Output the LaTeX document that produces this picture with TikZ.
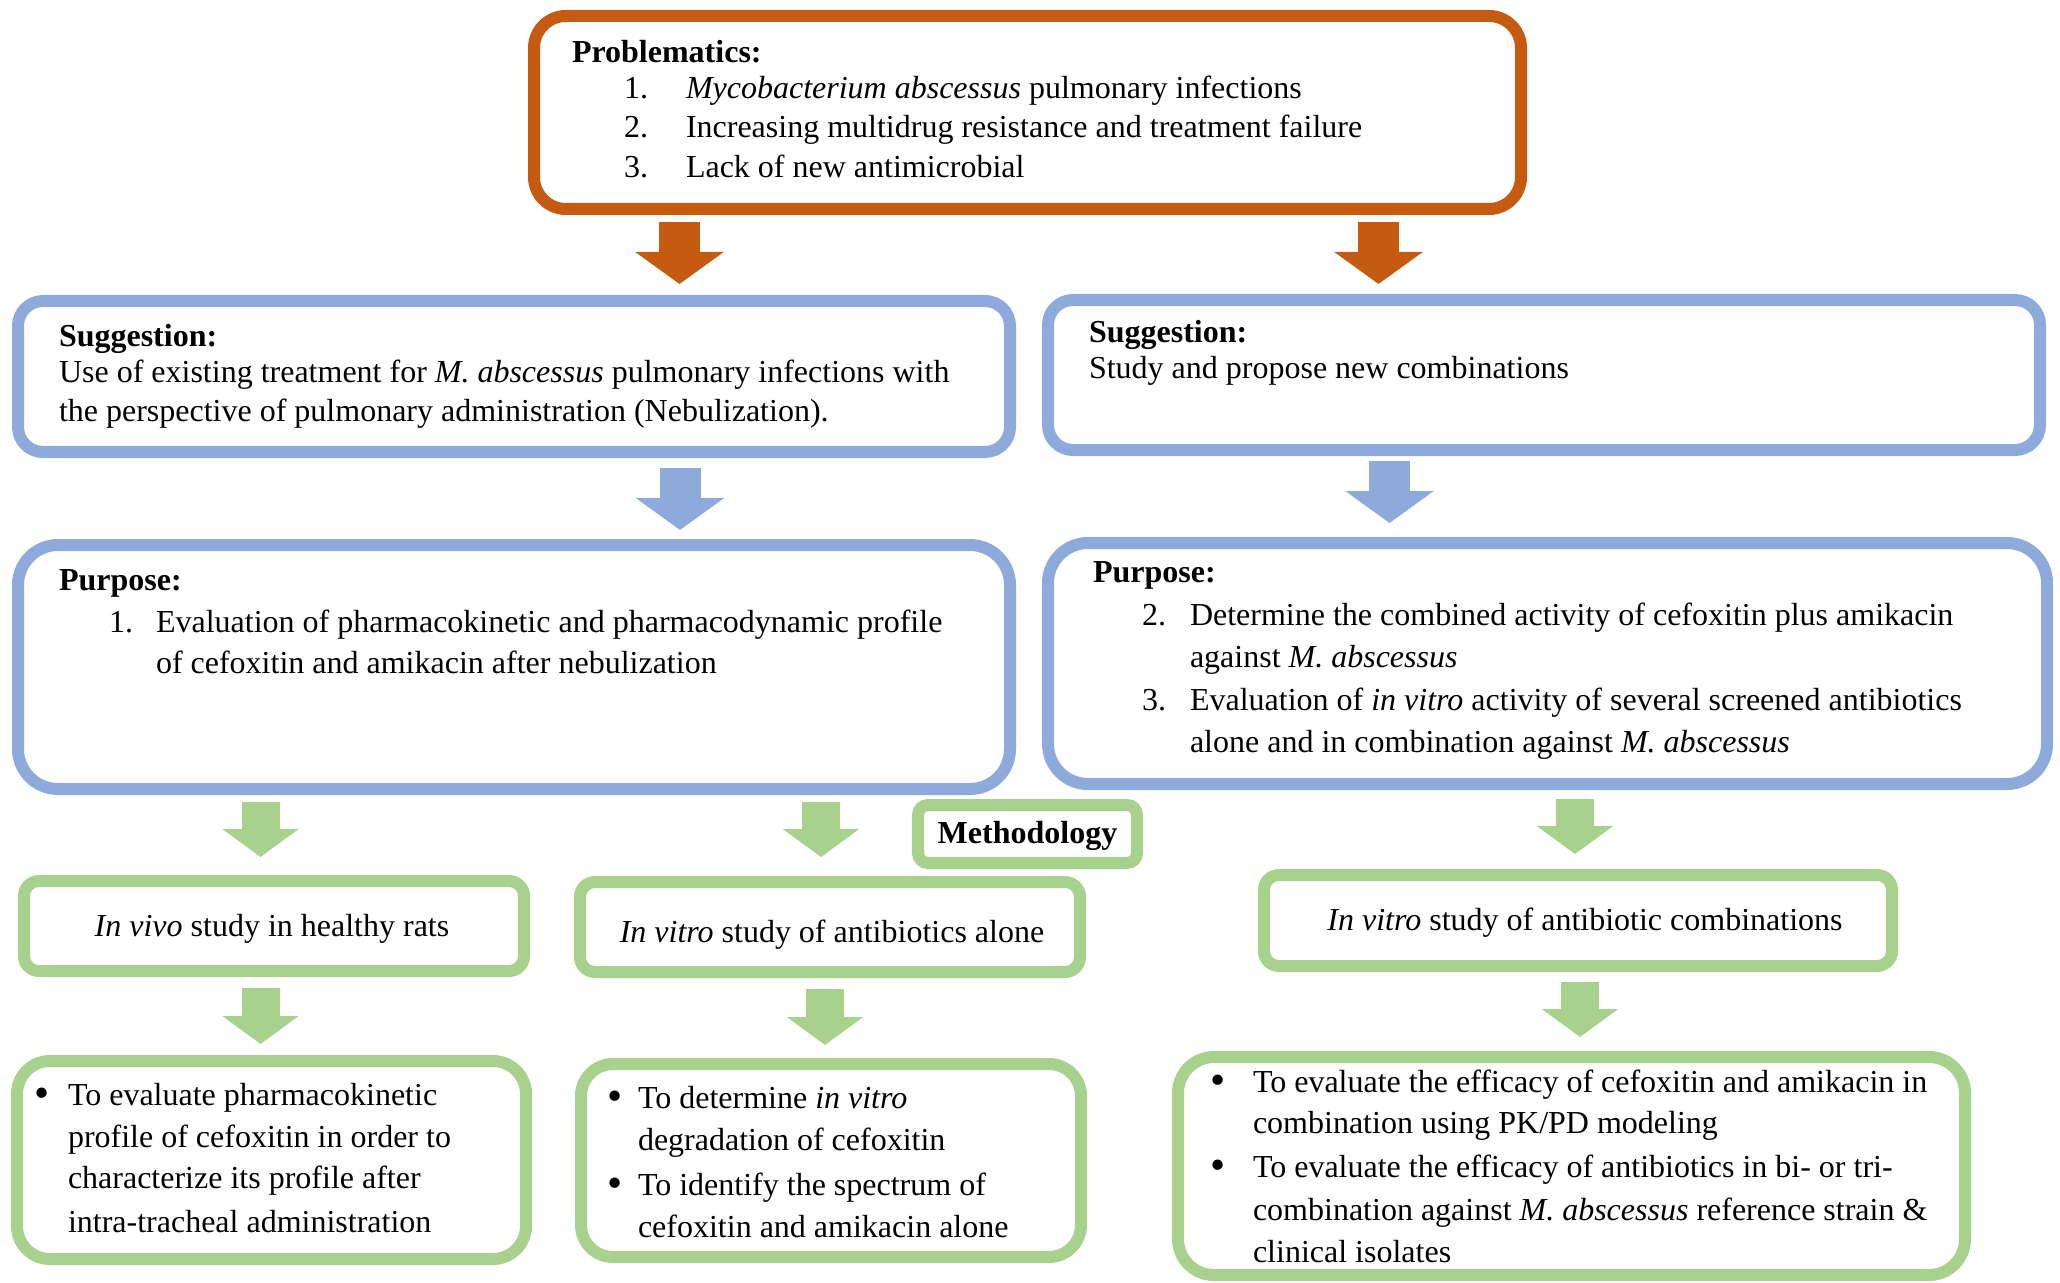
\documentclass[tikz,border=0pt]{standalone}
\usepackage{fontspec}
\usepackage{graphicx}
\setmainfont{Liberation Serif}
\usetikzlibrary{arrows.meta}
\definecolor{orng}{HTML}{C55A11}
\definecolor{blu}{HTML}{8EAADB}
\definecolor{grn}{HTML}{A9D18E}
\newcommand\mybul{\raisebox{-1.2pt}{\scalebox{1.35}{•}}}
\begin{document}
\begin{tikzpicture}[x=0.5pt,y=-0.5pt,
  box/.style={draw, line width=6pt, inner sep=0pt, outer sep=0pt, fill=white},
  txt/.style={anchor=base west, inner sep=0pt, outer sep=0pt, font=\fontsize{16pt}{19pt}\selectfont},
  ctxt/.style={txt, anchor=base},
  oarrow/.style={draw=orng, line width=20.5pt, line cap=butt, -{Triangle[length=16pt, width=43.5pt]}},
  barrow/.style={draw=blu, line width=20.5pt, line cap=butt, -{Triangle[length=16pt, width=43.5pt]}},
  garrow/.style={draw=grn, line width=19pt, line cap=butt, -{Triangle[length=14pt, width=37.5pt]}}]
\useasboundingbox (0,0) rectangle (2060,1283);

% boxes
\node[box, draw=orng, rounded corners=16pt, minimum width=493.5pt, minimum height=96.5pt] (prob) at (1027.5,112.5) {};
\node[box, draw=blu, rounded corners=12.5pt, minimum width=496pt, minimum height=75.5pt] (sugL) at (514,376.5) {};
\node[box, draw=blu, rounded corners=12.5pt, minimum width=496pt, minimum height=75pt] (sugR) at (1544,375) {};
\node[box, draw=blu, rounded corners=20pt, minimum width=496pt, minimum height=122pt] (purL) at (514,667) {};
\node[box, draw=blu, rounded corners=20pt, minimum width=499.5pt, minimum height=120.5pt] (purR) at (1547.5,663.5) {};
\node[box, draw=grn, rounded corners=5pt, minimum width=109.5pt, minimum height=29pt] (meth) at (1027.5,834) {};
\node[box, draw=grn, rounded corners=7.5pt, minimum width=250pt, minimum height=45pt] (vivo) at (274,926) {};
\node[box, draw=grn, rounded corners=7.5pt, minimum width=250pt, minimum height=45pt] (vitroA) at (830,927) {};
\node[box, draw=grn, rounded corners=7.5pt, minimum width=314pt, minimum height=45.5pt] (vitroC) at (1578,920.5) {};
\node[box, draw=grn, rounded corners=16.5pt, minimum width=254.5pt, minimum height=99pt] (bA) at (271.5,1160) {};
\node[box, draw=grn, rounded corners=16pt, minimum width=250pt, minimum height=96.5pt] (bB) at (831,1160.5) {};
\node[box, draw=grn, rounded corners=18pt, minimum width=393.5pt, minimum height=109pt] (bC) at (1571.5,1166) {};

% arrow end points
\coordinate (o1s) at (679.5,222);  \coordinate (o1e) at (679.5,284);
\coordinate (o2s) at (1378.5,222); \coordinate (o2e) at (1378.5,284);
\coordinate (b1s) at (680,468);    \coordinate (b1e) at (680,530);
\coordinate (b2s) at (1389.5,461); \coordinate (b2e) at (1389.5,523);
\coordinate (g1s) at (260.5,802);  \coordinate (g1e) at (260.5,857);
\coordinate (g2s) at (821,802);    \coordinate (g2e) at (821,857);
\coordinate (g3s) at (260.5,988);  \coordinate (g3e) at (260.5,1044);
\coordinate (g4s) at (825,989);    \coordinate (g4e) at (825,1045);
\coordinate (g5s) at (1575,799);   \coordinate (g5e) at (1575,854);
\coordinate (g6s) at (1580,982);   \coordinate (g6e) at (1580,1037);

\draw[oarrow] (o1s) -- (o1e);
\draw[oarrow] (o2s) -- (o2e);
\draw[barrow] (b1s) -- (b1e);
\draw[barrow] (b2s) -- (b2e);
\draw[garrow] (g1s) -- (g1e);
\draw[garrow] (g2s) -- (g2e);
\draw[garrow] (g3s) -- (g3e);
\draw[garrow] (g4s) -- (g4e);
\draw[garrow] (g5s) -- (g5e);
\draw[garrow] (g6s) -- (g6e);

% problem box text
\node[txt] (pt0) at (572,63) {\textbf{Problematics:}};
\node[txt] (pn1) at (624,99) {1.};
\node[txt] (pt1) at (686,99) {\textit{Mycobacterium abscessus} pulmonary infections};
\node[txt] (pn2) at (624,138) {2.};
\node[txt] (pt2) at (686,138) {Increasing multidrug resistance and treatment failure};
\node[txt] (pn3) at (624,178) {3.};
\node[txt] (pt3) at (686,178) {Lack of new antimicrobial};

% suggestion left
\node[txt] (sl0) at (59,347) {\textbf{Suggestion:}};
\node[txt] (sl1) at (59,383) {Use of existing treatment for \textit{M. abscessus} pulmonary infections with};
\node[txt] (sl2) at (59,422) {the perspective of pulmonary administration (Nebulization).};

% suggestion right
\node[txt] (sr0) at (1089,343) {\textbf{Suggestion:}};
\node[txt] (sr1) at (1089,379) {Study and propose new combinations};

% purpose left
\node[txt] (ul0) at (59,590) {\textbf{Purpose:}};
\node[txt] (uln1) at (109,632) {1.};
\node[txt] (ul1) at (156,632) {Evaluation of pharmacokinetic and pharmacodynamic profile};
\node[txt] (ul2) at (156,673) {of cefoxitin and amikacin after nebulization};

% purpose right
\node[txt] (ur0) at (1093,582) {\textbf{Purpose:}};
\node[txt] (urn2) at (1142,625) {2.};
\node[txt] (ur1) at (1190,625) {Determine the combined activity of cefoxitin plus amikacin};
\node[txt] (ur2) at (1190,667) {against \textit{M. abscessus}};
\node[txt] (urn3) at (1142,710) {3.};
\node[txt] (ur3) at (1190,710) {Evaluation of \textit{in vitro} activity of several screened antibiotics};
\node[txt] (ur4) at (1190,752) {alone and in combination against \textit{M. abscessus}};

% methodology and study boxes
\node[ctxt] (mt) at (1027.5,843) {\textbf{Methodology}};
\node[ctxt] (vt) at (272,936) {\textit{In vivo} study in healthy rats};
\node[ctxt] (at) at (832,942) {\textit{In vitro} study of antibiotics alone};
\node[ctxt] (ct) at (1585,930) {\textit{In vitro} study of antibiotic combinations};

% bottom box A
\node[txt] (ba0) at (34,1105) {\mybul};
\node[txt] (ba1) at (68,1105) {To evaluate pharmacokinetic};
\node[txt] (ba2) at (68,1147) {profile of cefoxitin in order to};
\node[txt] (ba3) at (68,1188) {characterize its profile after};
\node[txt] (ba4) at (68,1232) {intra-tracheal administration};

% bottom box B
\node[txt] (bb0) at (607,1108) {\mybul};
\node[txt] (bb1) at (638,1108) {To determine \textit{in vitro}};
\node[txt] (bb2) at (638,1150) {degradation of cefoxitin};
\node[txt] (bb3) at (607,1195) {\mybul};
\node[txt] (bb4) at (638,1195) {To identify the spectrum of};
\node[txt] (bb5) at (638,1237) {cefoxitin and amikacin alone};

% bottom box C
\node[txt] (bc0) at (1210,1092) {\mybul};
\node[txt] (bc1) at (1253,1092) {To evaluate the efficacy of cefoxitin and amikacin in};
\node[txt] (bc2) at (1253,1133) {combination using PK/PD modeling};
\node[txt] (bc3) at (1210,1177) {\mybul};
\node[txt] (bc4) at (1253,1177) {To evaluate the efficacy of antibiotics in bi- or tri-};
\node[txt] (bc5) at (1253,1220) {combination against \textit{M. abscessus} reference strain \&};
\node[txt] (bc6) at (1253,1262) {clinical isolates};
\end{tikzpicture}
\end{document}
